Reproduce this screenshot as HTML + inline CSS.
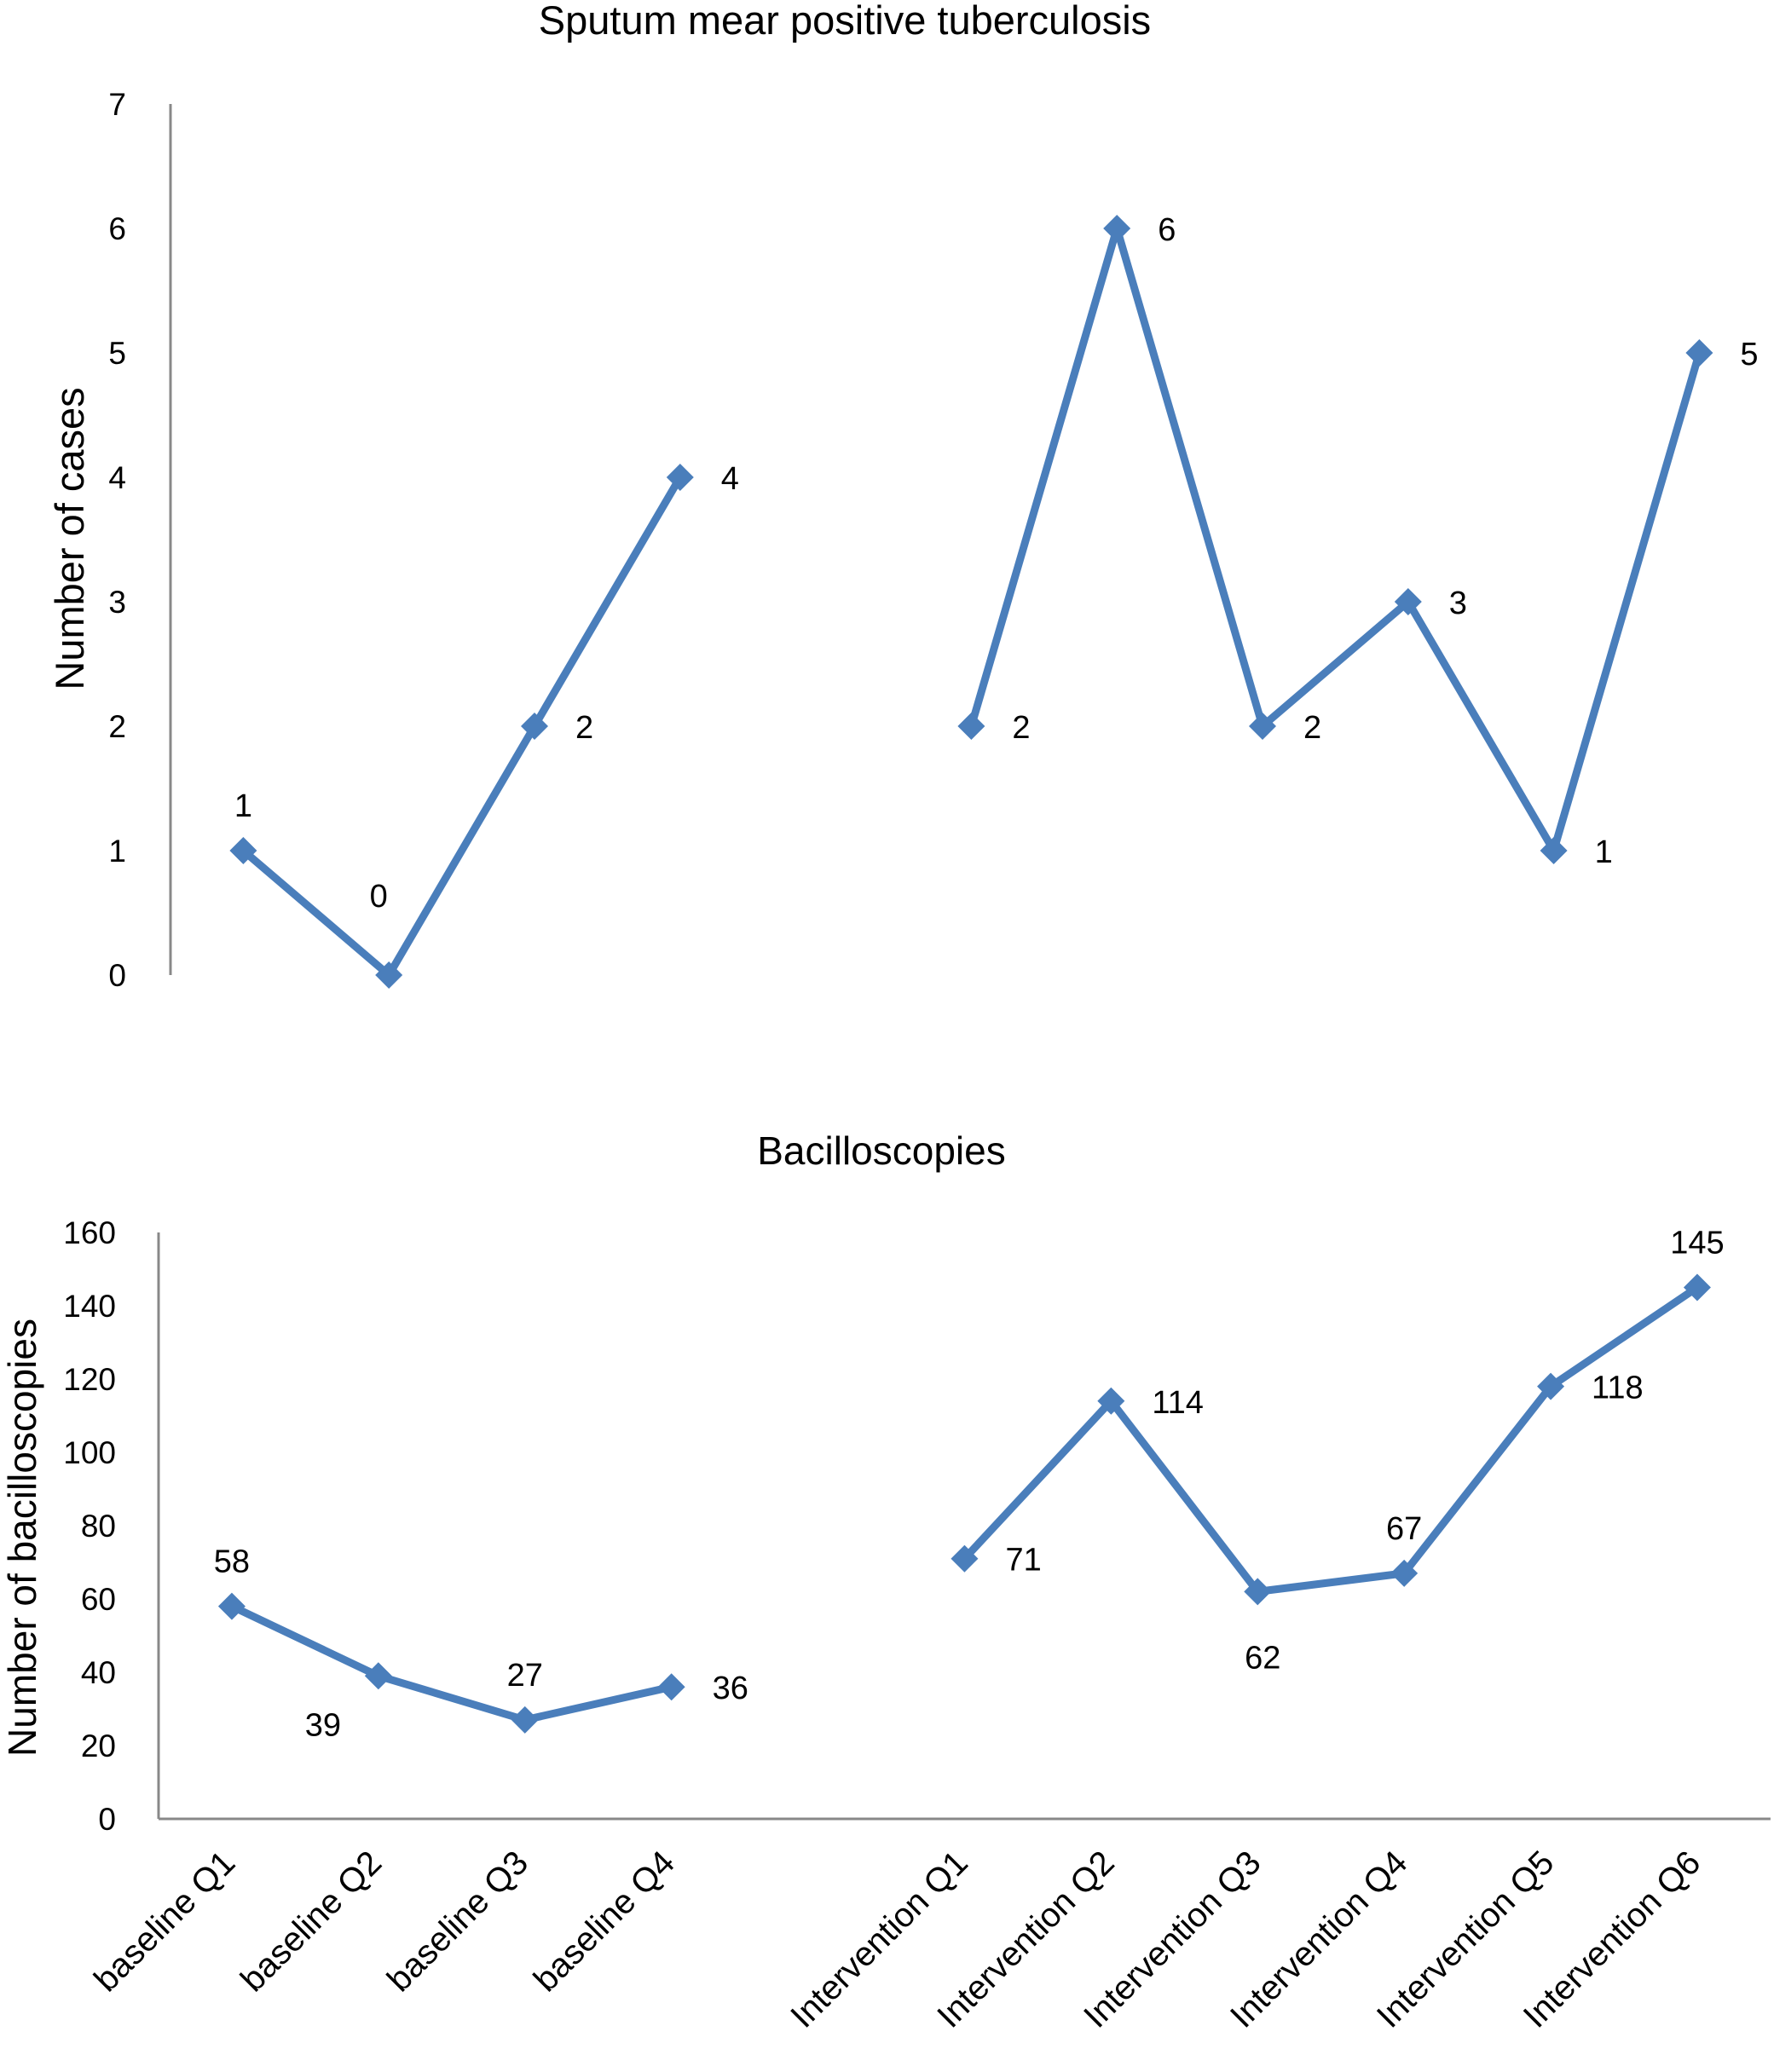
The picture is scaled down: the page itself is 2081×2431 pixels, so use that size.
<!DOCTYPE html>
<html><head><meta charset="utf-8"><style>
html,body{margin:0;padding:0;background:#fff;}
svg{display:block;font-family:"Liberation Sans",Arial,sans-serif;}
</style></head><body>
<svg id="chart" width="2081" height="2431" viewBox="0 0 2081 2431" xmlns="http://www.w3.org/2000/svg">
<text x="991" y="40" font-size="47" text-anchor="middle">Sputum mear positive tuberculosis</text>
<text x="1034" y="1366" font-size="46" text-anchor="middle">Bacilloscopies</text>
<text transform="translate(98,632) rotate(-90)" font-size="47" text-anchor="middle">Number of cases</text>
<text transform="translate(42,1804) rotate(-90)" font-size="46" text-anchor="middle">Number of bacilloscopies</text>
<g id="top"></g>
<g id="bottom"></g>
<g id="xlabels"></g>
</svg>
<script>
const categories = ["baseline Q1","baseline Q2","baseline Q3","baseline Q4","","Intervention Q1","Intervention Q2","Intervention Q3","Intervention Q4","Intervention Q5","Intervention Q6"];
const casesBaseline = [1,0,2,4];
const casesIntervention = [2,6,2,3,1,5];
const baciBaseline = [58,39,27,36];
const baciIntervention = [71,114,62,67,118,145];
const casesTicks = [0,1,2,3,4,5,6,7];
const baciTicks = [0,20,40,60,80,100,120,140,160];
const casesLabelPos = ["a","ah","r","r","r","r","r","r","r","r"];
const baciLabelPos = ["a","bl","a","r","r","r","b","a","r","a"];

const NS="http://www.w3.org/2000/svg";
const COLOR="#4a7ebb";
function mk(tag,attrs,parent,text){const e=document.createElementNS(NS,tag);for(const k in attrs)e.setAttribute(k,attrs[k]);if(text!==undefined)e.textContent=text;parent.appendChild(e);return e;}

function drawChart(g,cfg){
  const xs=i=>cfg.axisX+(i+0.5)*cfg.w;
  const ys=v=>cfg.y0-(v-cfg.min)/(cfg.max-cfg.min)*(cfg.y0-cfg.yTop);
  const ax=mk('line',{x1:cfg.axisX,y1:cfg.yTop,x2:cfg.axisX,y2:cfg.y0,stroke:'#888','stroke-width':3},g);
  
  
  if(cfg.xaxis){const xl=mk('line',{x1:cfg.axisX,y1:cfg.y0,x2:cfg.axisX+11*cfg.w,y2:cfg.y0,stroke:'#888','stroke-width':3},g);
    
    }
  cfg.ticks.forEach(t=>{const tx=mk('text',{x:cfg.axisX-cfg.tickGap,y:ys(t)+13,'font-size':37,'text-anchor':'end'},g,String(t));
    
    });
  const series=[{vals:cfg.s1,off:0},{vals:cfg.s2,off:5}];
  let li=0;
  series.forEach((s,si)=>{
    const pts=s.vals.map((v,i)=>[xs(i+s.off),ys(v)]);
    const pl=mk('polyline',{points:pts.map(p=>p.join(',')).join(' '),fill:'none',stroke:COLOR,'stroke-width':9,'stroke-linejoin':'round'},g);
    
    
    pts.forEach((p,i)=>{
      const d=16;
      const m=mk('polygon',{points:`${p[0]},${p[1]-d} ${p[0]+d},${p[1]} ${p[0]},${p[1]+d} ${p[0]-d},${p[1]}`,fill:COLOR},g);
      
      
      const pos=cfg.labels[li++];
      let lx=p[0]+48,ly=p[1]+14,anc='start';
      if(pos==='a'){lx=p[0];ly=p[1]-40;anc='middle';}
      if(pos==='ah'){lx=p[0]-12;ly=p[1]-80;anc='middle';}
      if(pos==='b'){lx=p[0]+6;ly=p[1]+90;anc='middle';}
      if(pos==='bl'){lx=p[0]-65;ly=p[1]+70;anc='middle';}
      const t=mk('text',{x:lx,y:ly,'font-size':38,'text-anchor':anc},g,String(s.vals[i]));
      
      
    });
  });
  return xs;
}
drawChart(document.getElementById('top'),{name:'cases',axisX:200,w:170.8,y0:1144,yTop:122,min:0,max:7,ticks:casesTicks,tickGap:52,s1:casesBaseline,s2:casesIntervention,labels:casesLabelPos,xaxis:false});
const bx=drawChart(document.getElementById('bottom'),{name:'bacilloscopies',axisX:186,w:171.9,y0:2134,yTop:1446,min:0,max:160,ticks:baciTicks,tickGap:50,s1:baciBaseline,s2:baciIntervention,labels:baciLabelPos,xaxis:true});
const xg=document.getElementById('xlabels');
categories.forEach((c,i)=>{if(!c)return;
  const x=bx(i)+6,y=2188;
  const t=mk('text',{x:x,y:y,'font-size':40,'text-anchor':'end',transform:`rotate(-45 ${x} ${y})`},xg,c);
  
  
});
</script>
</body></html>
